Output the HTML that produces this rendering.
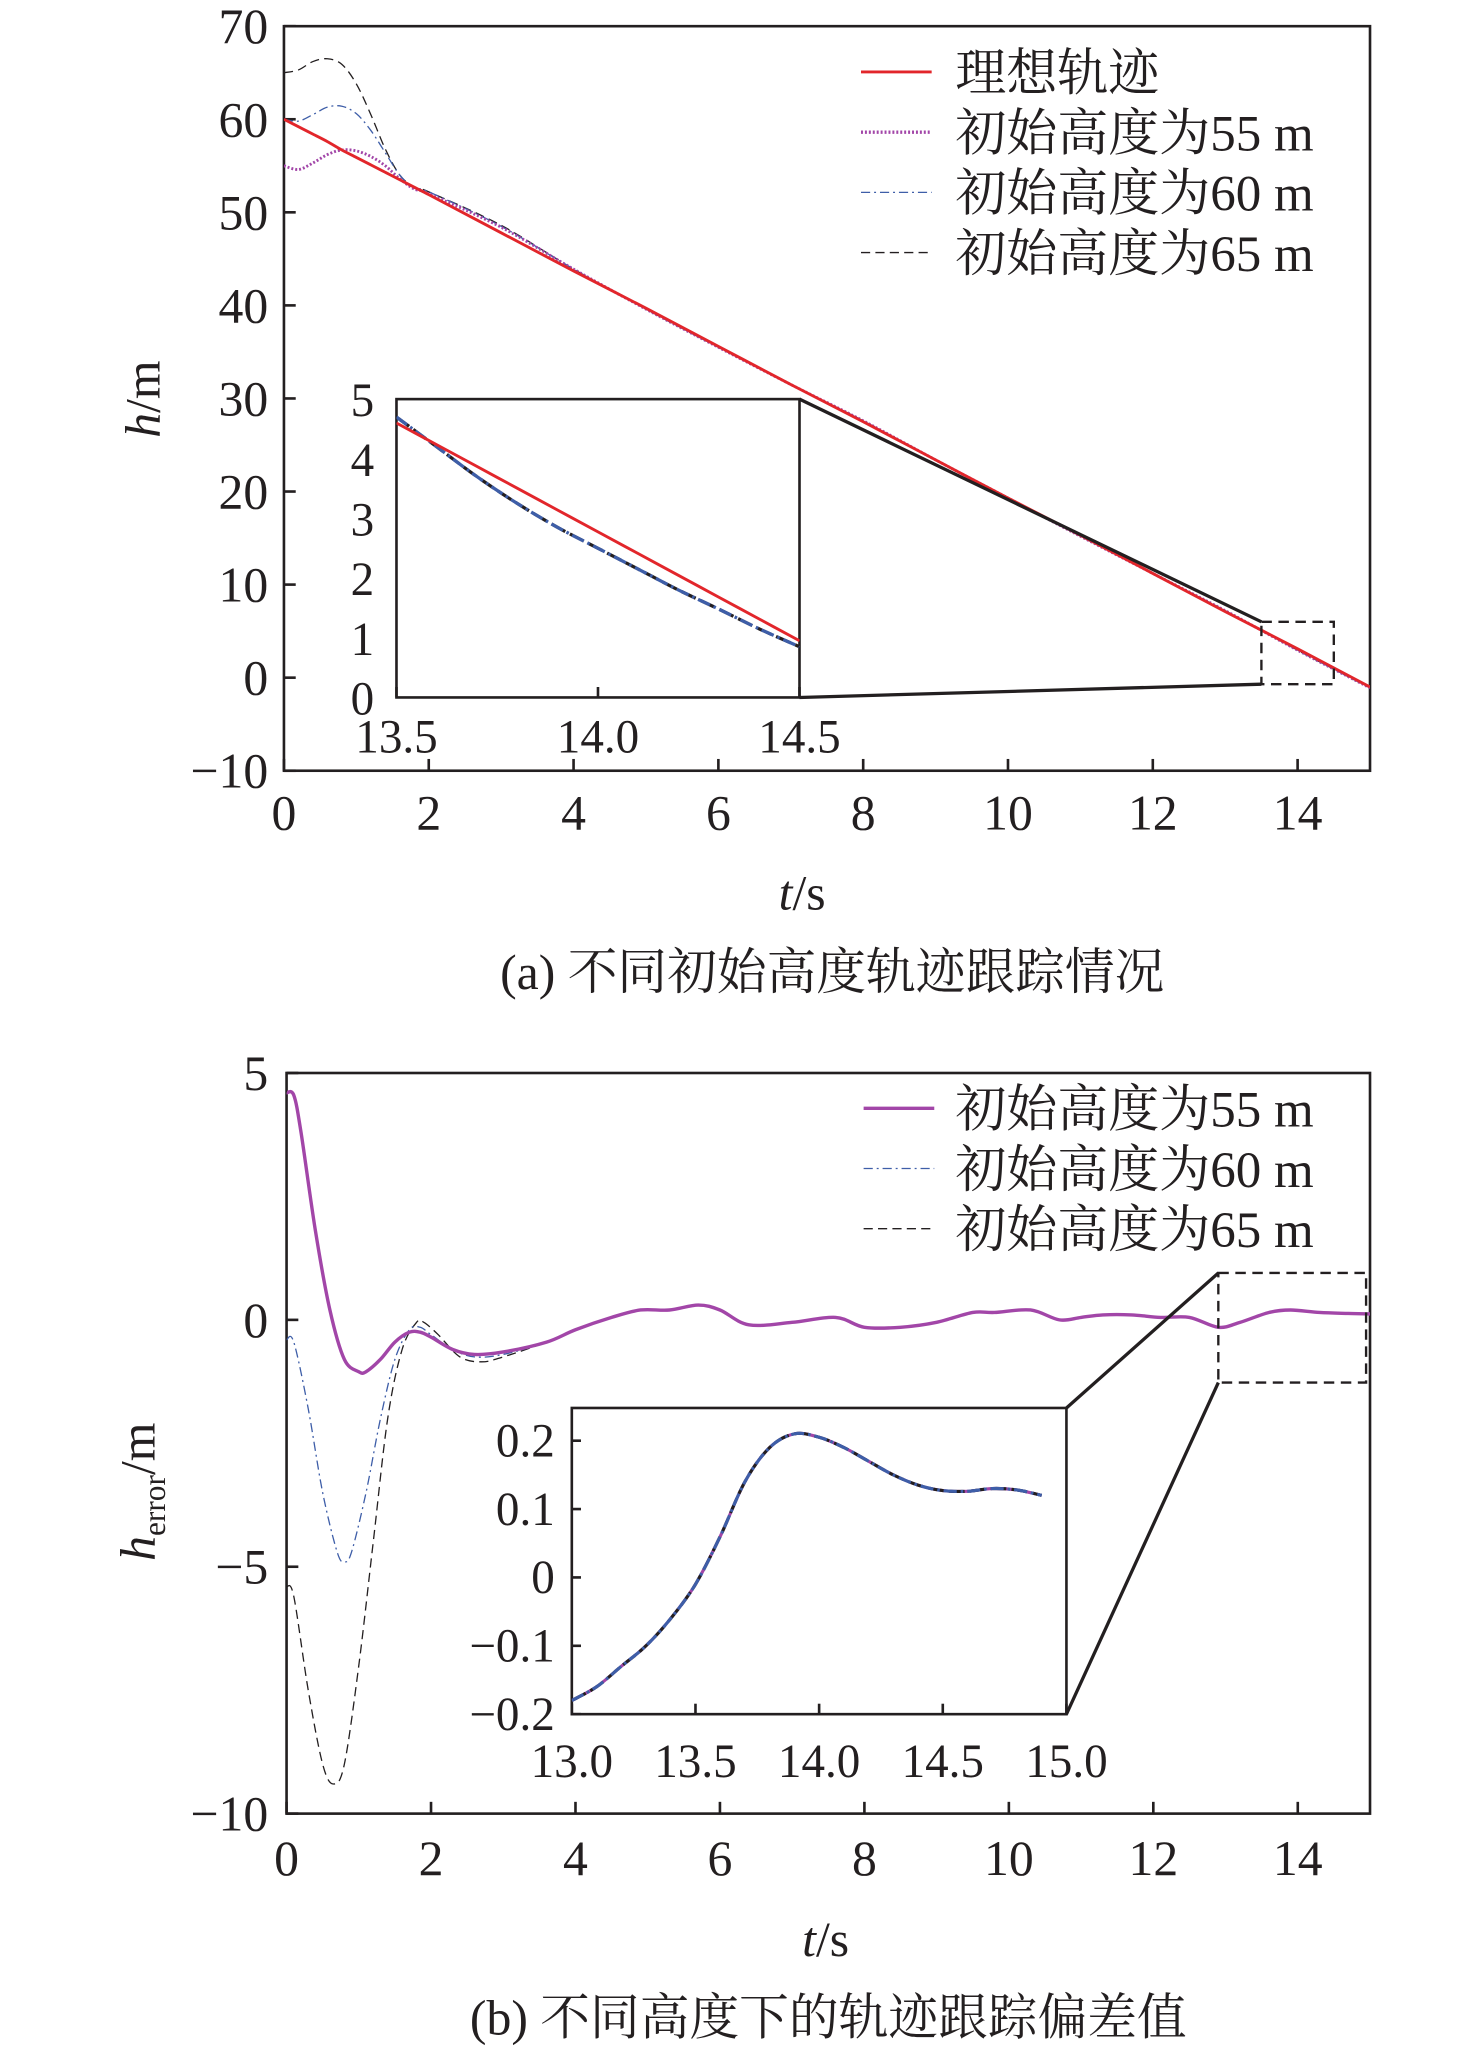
<!DOCTYPE html>
<html><head><meta charset="utf-8">
<style>
html,body{margin:0;padding:0;background:#fff;}
svg{display:block;}
text{font-family:"Liberation Serif","Noto Serif CJK SC","Noto Sans CJK SC",serif;fill:#231f20;}
</style></head>
<body>
<svg id="fig" width="1476" height="2051" viewBox="0 0 1128 1567.4" xmlns="http://www.w3.org/2000/svg">
<defs>
<clipPath id="clipA"><rect x="217" y="20" width="830" height="569"/></clipPath>
<clipPath id="clipAi"><rect x="303" y="305" width="308" height="228"/></clipPath>
<clipPath id="clipB"><rect x="219" y="820" width="828" height="568"/></clipPath>
<clipPath id="clipBi"><rect x="437" y="1076" width="378" height="234"/></clipPath>
</defs>
<g id="gA"></g>
<g id="gB"></g>
</svg>
<script>
// ---------- Chart (a) data ----------
const timesA = [0,0.2,0.4,0.6,0.8,1.0,1.2,1.4,1.6,1.8,2,3,4,5,6,7,8,9,10,11,12,13,14,15];
const idealA = [60,59.2,58.4,57.6,56.7,55.9,55.1,54.3,53.5,52.7,51.9,47.8,43.7,39.7,35.6,31.5,27.5,23.4,19.3,15.3,11.2,7.1,3.1,-1.0];
const h55A = [55,54.6,55.3,56.2,56.7,56.6,56.0,55.0,53.6,52.5,52.0,48.4,43.9,39.6,35.5,31.5,27.6,23.4,19.3,15.2,11.2,7.2,2.95,-1.1];
const h60A = [60,59.8,60.5,61.3,61.4,60.6,58.8,56.4,54.0,52.6,52.2,48.5,43.9,39.6,35.5,31.5,27.6,23.4,19.3,15.2,11.2,7.2,2.95,-1.1];
const h65A = [65,65.3,66.2,66.5,65.9,63.8,60.5,56.8,54.0,52.7,52.2,48.6,43.9,39.6,35.5,31.5,27.6,23.4,19.3,15.2,11.2,7.2,2.95,-1.1];
const xTicksA = [0,2,4,6,8,10,12,14];
const yTicksA = [-10,0,10,20,30,40,50,60,70];
const insetTimesA = [13.5,13.6,13.7,13.8,13.9,14.0,14.1,14.2,14.3,14.4,14.5];
const insetIdealA = [4.6,4.235,3.87,3.505,3.14,2.775,2.41,2.045,1.68,1.315,0.95];
const insetActualA = [4.7,4.2,3.7,3.25,2.85,2.5,2.15,1.8,1.48,1.15,0.85];
const insetXTicksA = [13.5,14.0,14.5];
const insetYTicksA = [0,1,2,3,4,5];
// ---------- Chart (b) data ----------
const timesB55 = [0,0.1,0.2,0.4,0.6,0.8,1.0,1.1,1.3,1.5,1.7,1.85,2.0,2.3,2.6,3.0,3.6,4.0,4.5,4.9,5.3,5.7,6.0,6.4,7.0,7.6,8.0,8.5,9.0,9.5,9.8,10.3,10.7,11.0,11.3,11.7,12.1,12.5,12.9,13.2,13.6,13.9,14.3,14.7,15];
const err55 = [4.6,4.55,3.8,1.8,0.2,-0.8,-1.05,-1.05,-0.8,-0.45,-0.25,-0.25,-0.35,-0.6,-0.7,-0.65,-0.45,-0.2,0.05,0.2,0.2,0.3,0.2,-0.1,-0.05,0.05,-0.15,-0.15,-0.05,0.15,0.15,0.2,0,0.05,0.1,0.1,0.05,0.05,-0.15,-0.05,0.15,0.2,0.15,0.13,0.12];
const timesB60 = [0,0.1,0.3,0.5,0.7,0.8,0.9,1.1,1.3,1.5,1.7,1.85,2.0,2.3,2.6,3.0,3.6,4.0,4.5,4.9,5.3,5.7,6.0,6.4,7.0,7.6,8.0,8.5,9.0,9.5,9.8,10.3,10.7,11.0,11.3,11.7,12.1,12.5,12.9,13.2,13.6,13.9,14.3,14.7,15];
const err60 = [-0.4,-0.45,-1.8,-3.5,-4.7,-4.9,-4.7,-3.5,-2.0,-0.8,-0.2,-0.15,-0.3,-0.6,-0.75,-0.7,-0.45,-0.2,0.05,0.2,0.2,0.3,0.2,-0.1,-0.05,0.05,-0.15,-0.15,-0.05,0.15,0.15,0.2,0,0.05,0.1,0.1,0.05,0.05,-0.15,-0.05,0.15,0.2,0.15,0.13,0.12];
const timesB65 = [0,0.1,0.3,0.5,0.65,0.8,1.0,1.2,1.4,1.6,1.8,1.9,2.1,2.4,2.7,3.0,3.6,4.0,4.5,4.9,5.3,5.7,6.0,6.4,7.0,7.6,8.0,8.5,9.0,9.5,9.8,10.3,10.7,11.0,11.3,11.7,12.1,12.5,12.9,13.2,13.6,13.9,14.3,14.7,15];
const err65 = [-5.4,-5.6,-7.5,-9.0,-9.4,-9.0,-7.0,-4.5,-2.0,-0.6,-0.05,-0.05,-0.3,-0.75,-0.85,-0.75,-0.45,-0.2,0.05,0.2,0.2,0.3,0.2,-0.1,-0.05,0.05,-0.15,-0.15,-0.05,0.15,0.15,0.2,0,0.05,0.1,0.1,0.05,0.05,-0.15,-0.05,0.15,0.2,0.15,0.13,0.12];
const xTicksB = [0,2,4,6,8,10,12,14];
const yTicksB = [-10,-5,0,5];
const insetTimesB = [13.0,13.1,13.2,13.3,13.4,13.5,13.6,13.7,13.8,13.9,14.0,14.1,14.2,14.3,14.4,14.5,14.6,14.7,14.8,14.9];
const insetErrB = [-0.18,-0.16,-0.13,-0.1,-0.06,-0.01,0.06,0.14,0.19,0.21,0.205,0.19,0.17,0.15,0.135,0.127,0.126,0.13,0.128,0.12];
const insetXTicksB = [13.0,13.5,14.0,14.5,15.0];
const insetYTicksB = [-0.2,-0.1,0,0.1,0.2];

const NS = "http://www.w3.org/2000/svg";
function mk(parent, tag, attrs, txt){
  const e = document.createElementNS(NS, tag);
  for (const k in attrs) e.setAttribute(k, attrs[k]);
  if (txt !== undefined) e.textContent = txt;
  parent.appendChild(e);
  return e;
}
function lin(d0,d1,r0,r1){ return v => r0 + (v-d0)*(r1-r0)/(d1-d0); }
function pathD(xs, ys, sx, sy){
  const P = xs.map((t,i)=>[sx(t), sy(ys[i])]);
  let d = 'M'+P[0][0].toFixed(2)+','+P[0][1].toFixed(2);
  for (let i=0;i<P.length-1;i++){
    const p0=P[Math.max(0,i-1)], p1=P[i], p2=P[i+1], p3=P[Math.min(P.length-1,i+2)];
    const c1=[p1[0]+(p2[0]-p0[0])/6, p1[1]+(p2[1]-p0[1])/6];
    const c2=[p2[0]-(p3[0]-p1[0])/6, p2[1]-(p3[1]-p1[1])/6];
    d += 'C'+c1[0].toFixed(2)+','+c1[1].toFixed(2)+' '+c2[0].toFixed(2)+','+c2[1].toFixed(2)+' '+p2[0].toFixed(2)+','+p2[1].toFixed(2);
  }
  return d;
}
function fmtNeg(v){ return v<0 ? '\u2212'+String(-v) : String(v); }

const RED="#e2262b", PUR="#a246a8", BLU="#3e5ea8", BLK="#231f20";

// ================= Chart A =================
const gA = document.getElementById('gA');
const xA = lin(0,15,217,1047), yA = lin(-10,70,589,20);
let e = mk(gA,'rect',{x:217,y:20,width:830,height:569,fill:'none',stroke:BLK,'stroke-width':2});
 
xTicksA.forEach(t=>{
  const x=xA(t);
  let l=mk(gA,'line',{x1:x,y1:589,x2:x,y2:580,stroke:BLK,'stroke-width':2});
   
  let tx=mk(gA,'text',{x:x,y:634,'font-size':38,'text-anchor':'middle'},String(t));
   
});
yTicksA.forEach(v=>{
  const y=yA(v);
  let l=mk(gA,'line',{x1:217,y1:y,x2:226,y2:y,stroke:BLK,'stroke-width':2});
   
  let tx=mk(gA,'text',{x:205,y:y+13,'font-size':38,'text-anchor':'end'},fmtNeg(v));
   
});
const cA = mk(gA,'g',{'clip-path':'url(#clipA)'});
let p;
p=mk(cA,'path',{d:pathD(timesA,h65A,xA,yA),fill:'none',stroke:BLK,'stroke-width':1,'stroke-dasharray':'7 4'});
 
p=mk(cA,'path',{d:pathD(timesA,h60A,xA,yA),fill:'none',stroke:BLU,'stroke-width':1,'stroke-dasharray':'7 3 1.5 3'});
 
p=mk(cA,'path',{d:pathD(timesA,h55A,xA,yA),fill:'none',stroke:PUR,'stroke-width':2.2,'stroke-dasharray':'1.5 1.5'});
 
p=mk(cA,'path',{d:pathD(timesA,idealA,xA,yA),fill:'none',stroke:RED,'stroke-width':2.2});
 
const zx0=xA(13.5), zx1=xA(14.5), zy0=yA(6), zy1=yA(-0.7);
e=mk(gA,'rect',{x:zx0,y:zy0,width:zx1-zx0,height:zy1-zy0,fill:'none',stroke:BLK,'stroke-width':1.8,'stroke-dasharray':'8 5'});
 
const ixA = lin(13.5,14.5,303,611), iyA = lin(0,5,533,305);
e=mk(gA,'line',{x1:611,y1:305,x2:zx0,y2:zy0,stroke:BLK,'stroke-width':2.5});
 
e=mk(gA,'line',{x1:611,y1:533,x2:zx0,y2:zy1,stroke:BLK,'stroke-width':2.5});
 
e=mk(gA,'rect',{x:303,y:305,width:308,height:228,fill:'#fff',stroke:BLK,'stroke-width':2});
 
insetXTicksA.forEach(t=>{
  const x=ixA(t);
  let l=mk(gA,'line',{x1:x,y1:533,x2:x,y2:525,stroke:BLK,'stroke-width':2});
   
  let tx=mk(gA,'text',{x:x,y:575,'font-size':36,'text-anchor':'middle'},t.toFixed(1));
   
});
insetYTicksA.forEach(v=>{
  const y=iyA(v);
  let tx=mk(gA,'text',{x:286,y:y+13,'font-size':36,'text-anchor':'end'},String(v));
   
});
const ciA = mk(gA,'g',{'clip-path':'url(#clipAi)'});
p=mk(ciA,'path',{d:pathD(insetTimesA,insetActualA,ixA,iyA),fill:'none',stroke:BLK,'stroke-width':2.5,'stroke-dasharray':'12 4'});
 
p=mk(ciA,'path',{d:pathD(insetTimesA,insetActualA,ixA,iyA),fill:'none',stroke:BLU,'stroke-width':2.5,'stroke-dasharray':'10 3 2 3'});
 
p=mk(ciA,'path',{d:pathD(insetTimesA,insetIdealA,ixA,iyA),fill:'none',stroke:RED,'stroke-width':2.2});
 
const legA=[['理想轨迹',RED,2.2,''],['初始高度为55 m',PUR,2.5,'1.5 1.5'],['初始高度为60 m',BLU,1,'7 3 1.5 3'],['初始高度为65 m',BLK,1,'7 4']];
const lgA=mk(gA,'g',{});  
legA.forEach((L,i)=>{
  const y=55+i*46;
  const a={x1:658,y1:y,x2:712,y2:y,stroke:L[1],'stroke-width':L[2]}; if(L[3]) a['stroke-dasharray']=L[3];
  let l=mk(lgA,'line',a);  
  let tx=mk(lgA,'text',{x:730,y:y+14,'font-size':39},L[0]);  
});
e=mk(gA,'text',{x:0,y:0,'font-size':38,transform:'translate(122,305) rotate(-90)','text-anchor':'middle'});
 
mk(e,'tspan',{'font-style':'italic'},'h'); mk(e,'tspan',{},'/m');
e=mk(gA,'text',{x:613,y:695,'font-size':38,'text-anchor':'middle'});
 
mk(e,'tspan',{'font-style':'italic'},'t'); mk(e,'tspan',{},'/s');
e=mk(gA,'text',{x:636,y:756,'font-size':38,'text-anchor':'middle'},'(a) 不同初始高度轨迹跟踪情况');
 

// ================= Chart B =================
const gB = document.getElementById('gB');
const xB = lin(0,15,219,1047), yB = lin(-10,5,1386,820);
e=mk(gB,'rect',{x:219,y:820,width:828,height:566,fill:'none',stroke:BLK,'stroke-width':2});
 
xTicksB.forEach(t=>{
  const x=xB(t);
  let l=mk(gB,'line',{x1:x,y1:1386,x2:x,y2:1377,stroke:BLK,'stroke-width':2});
   
  let tx=mk(gB,'text',{x:x,y:1433,'font-size':38,'text-anchor':'middle'},String(t));
   
});
yTicksB.forEach(v=>{
  const y=yB(v);
  let l=mk(gB,'line',{x1:219,y1:y,x2:228,y2:y,stroke:BLK,'stroke-width':2});
   
  let tx=mk(gB,'text',{x:205,y:y+13,'font-size':38,'text-anchor':'end'},fmtNeg(v));
   
});
const cB = mk(gB,'g',{'clip-path':'url(#clipB)'});
p=mk(cB,'path',{d:pathD(timesB65,err65,xB,yB),fill:'none',stroke:BLK,'stroke-width':1,'stroke-dasharray':'7 4'});
 
p=mk(cB,'path',{d:pathD(timesB60,err60,xB,yB),fill:'none',stroke:BLU,'stroke-width':1,'stroke-dasharray':'7 3 1.5 3'});
 
p=mk(cB,'path',{d:pathD(timesB55,err55,xB,yB),fill:'none',stroke:PUR,'stroke-width':2.6});
 
const bx0=xB(12.9), bx1=1044, by0=yB(0.95), by1=yB(-1.27);
e=mk(gB,'rect',{x:bx0,y:by0,width:bx1-bx0,height:by1-by0,fill:'none',stroke:BLK,'stroke-width':1.8,'stroke-dasharray':'8 5'});
 
e=mk(gB,'line',{x1:815,y1:1076,x2:bx0,y2:by0,stroke:BLK,'stroke-width':2.5});
 
e=mk(gB,'line',{x1:815,y1:1310,x2:bx0,y2:by1,stroke:BLK,'stroke-width':2.5});
 
const ixB = lin(13,15,437,815), iyB = lin(-0.2,0.2,1310,1101);
e=mk(gB,'rect',{x:437,y:1076,width:378,height:234,fill:'#fff',stroke:BLK,'stroke-width':2});
 
insetXTicksB.forEach(t=>{
  const x=ixB(t);
  let l=mk(gB,'line',{x1:x,y1:1310,x2:x,y2:1302,stroke:BLK,'stroke-width':2});
   
  let tx=mk(gB,'text',{x:x,y:1358,'font-size':36,'text-anchor':'middle'},t.toFixed(1));
   
});
insetYTicksB.forEach(v=>{
  const y=iyB(v);
  let l=mk(gB,'line',{x1:437,y1:y,x2:444,y2:y,stroke:BLK,'stroke-width':2});
   
  let tx=mk(gB,'text',{x:424,y:y+12,'font-size':36,'text-anchor':'end'},v===0?'0':fmtNeg(v));
   
});
const ciB = mk(gB,'g',{'clip-path':'url(#clipBi)'});
p=mk(ciB,'path',{d:pathD(insetTimesB,insetErrB,ixB,iyB),fill:'none',stroke:PUR,'stroke-width':2.4});
 
p=mk(ciB,'path',{d:pathD(insetTimesB,insetErrB,ixB,iyB),fill:'none',stroke:BLK,'stroke-width':2.4,'stroke-dasharray':'12 4'});
 
p=mk(ciB,'path',{d:pathD(insetTimesB,insetErrB,ixB,iyB),fill:'none',stroke:BLU,'stroke-width':2.4,'stroke-dasharray':'10 3 2 3'});
 
const legB=[['初始高度为55 m',PUR,2.6,''],['初始高度为60 m',BLU,1,'7 3 1.5 3'],['初始高度为65 m',BLK,1,'7 4']];
const lgB=mk(gB,'g',{});  
legB.forEach((L,i)=>{
  const y=847+i*46;
  const a={x1:660,y1:y,x2:714,y2:y,stroke:L[1],'stroke-width':L[2]}; if(L[3]) a['stroke-dasharray']=L[3];
  let l=mk(lgB,'line',a);  
  let tx=mk(lgB,'text',{x:730,y:y+14,'font-size':39},L[0]);  
});
e=mk(gB,'text',{x:0,y:0,'font-size':38,transform:'translate(118,1140) rotate(-90)','text-anchor':'middle'});
 
mk(e,'tspan',{'font-style':'italic'},'h'); mk(e,'tspan',{'font-size':24,dy:8},'error'); mk(e,'tspan',{dy:-8},'/m');
e=mk(gB,'text',{x:631,y:1495,'font-size':38,'text-anchor':'middle'});
 
mk(e,'tspan',{'font-style':'italic'},'t'); mk(e,'tspan',{},'/s');
e=mk(gB,'text',{x:633,y:1555,'font-size':38,'text-anchor':'middle'},'(b) 不同高度下的轨迹跟踪偏差值');
 
</script>
</body></html>
